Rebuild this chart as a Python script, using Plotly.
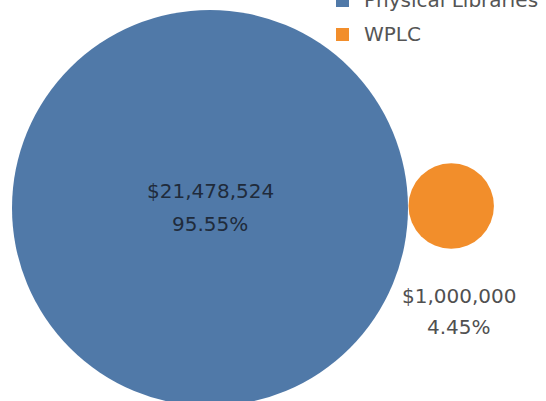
import math
import plotly.graph_objects as go

# ---- data ----
categories = ["Physical Libraries", "WPLC"]
values = [21478524, 1000000]
percents = ["95.55%", "4.45%"]
value_labels = ["$21,478,524", "$1,000,000"]
colors = ["#5079a8", "#f28e2b"]

W, H = 546, 401
FONT = "DejaVu Sans"

# bubble radii scale with sqrt(value) (area-proportional)
max_r = 198
k = max_r / math.sqrt(max(values))
radii = [k * math.sqrt(v) for v in values]

# pack: big bubble, small bubble tangent on the right
cx0, cy0 = 210, 208
centers = [(cx0, cy0), (cx0 + radii[0] + radii[1] + 0.5, 206)]

fig = go.Figure()
for i, cat in enumerate(categories):
    cx, cy = centers[i]
    fig.add_trace(go.Scatter(
        x=[cx], y=[cy], mode="markers",
        marker=dict(size=2 * radii[i], color=colors[i], line=dict(width=0)),
        name=cat, showlegend=False, hoverinfo="skip", cliponaxis=True,
    ))

annotations = []
# label for big bubble (inside)
annotations.append(dict(x=centers[0][0], y=191, text=value_labels[0], showarrow=False,
                        font=dict(family=FONT, size=20, color="#1f2b3b"), xanchor="center", yanchor="middle"))
annotations.append(dict(x=centers[0][0], y=224, text=percents[0], showarrow=False,
                        font=dict(family=FONT, size=20, color="#1f2b3b"), xanchor="center", yanchor="middle"))
# label for small bubble (below)
lx = 459
annotations.append(dict(x=lx, y=296, text=value_labels[1], showarrow=False,
                        font=dict(family=FONT, size=20, color="#505050"), xanchor="center", yanchor="middle"))
annotations.append(dict(x=lx, y=327, text=percents[1], showarrow=False,
                        font=dict(family=FONT, size=20, color="#505050"), xanchor="center", yanchor="middle"))

# custom legend
shapes = []
leg_y = [0, 34]
for i, cat in enumerate(categories):
    yc = leg_y[i]
    shapes.append(dict(type="rect", xref="x", yref="y", x0=336, x1=349, y0=yc - 6, y1=yc + 7,
                       fillcolor=colors[i], line=dict(width=0)))
    annotations.append(dict(x=362, y=yc, text=cat, showarrow=False,
                            font=dict(family=FONT, size=20, color="#555555"), xanchor="left", yanchor="middle"))

fig.update_layout(
    width=W, height=H,
    margin=dict(l=0, r=0, t=0, b=0),
    paper_bgcolor="white", plot_bgcolor="white",
    xaxis=dict(range=[0, W], visible=False, fixedrange=True),
    yaxis=dict(range=[H, 0], visible=False, fixedrange=True),
    annotations=annotations, shapes=shapes,
    showlegend=False,
)
fig.write_html("out.html", config={"displayModeBar": False},
               post_script="document.body.style.margin='0';document.body.style.overflow='hidden';")
